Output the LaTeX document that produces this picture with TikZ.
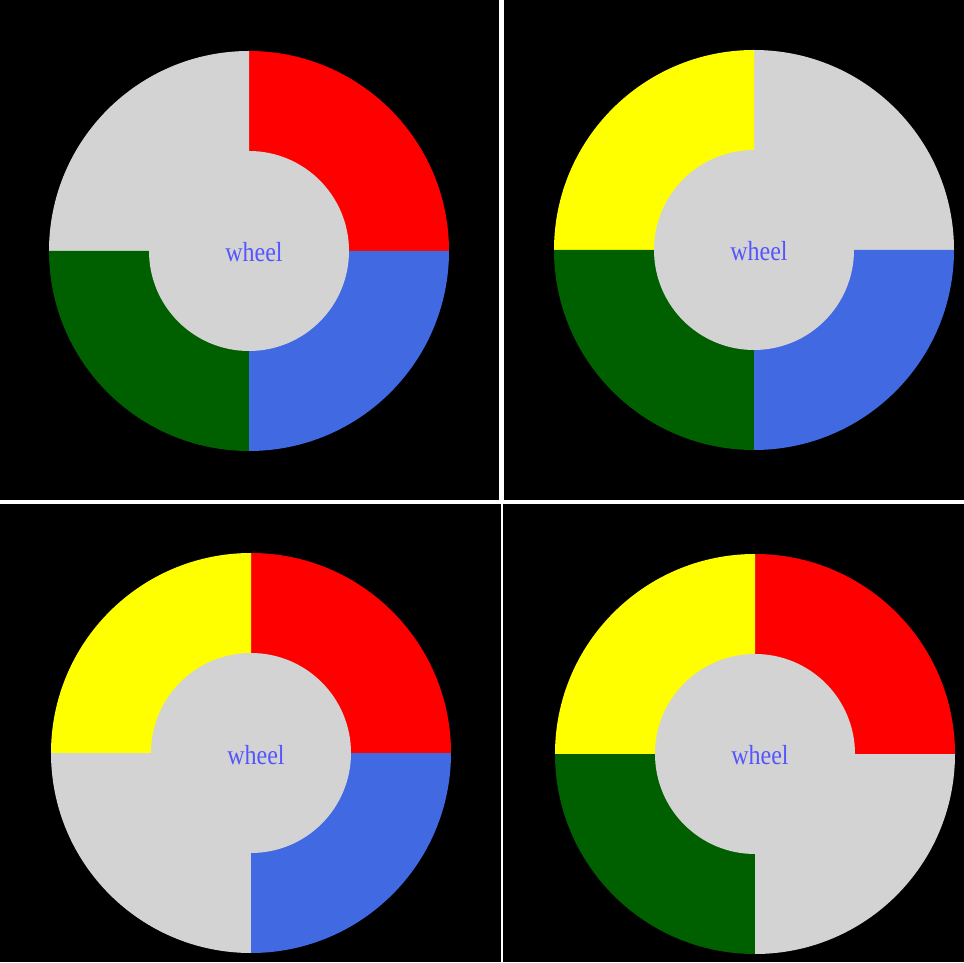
\documentclass[tikz,border=0pt]{standalone}
\usepackage{fontspec}
\setmainfont{Liberation Serif}
\usepackage{xcolor}
\definecolor{wheelgray}{RGB}{211,211,211}
\definecolor{wheelred}{RGB}{255,0,0}
\definecolor{wheelyellow}{RGB}{255,255,0}
\definecolor{wheelgreen}{RGB}{0,96,0}
\definecolor{wheelblue}{RGB}{65,105,225}
\definecolor{wheeltext}{RGB}{85,85,255}
\tikzset{
  panel/.style={fill=black},
  hub/.style={fill=wheelgray},
  wheellabel/.style={anchor=base, text=wheeltext, inner sep=0pt, font=\fontsize{24}{24}\selectfont}
}
\begin{document}
\begin{tikzpicture}[x=1pt, y=1pt]
\useasboundingbox (0,0) rectangle (964,962);
% background and panels
\fill[white] (0,0) rectangle (964,962);
\fill[panel] (0,462) rectangle (499,962);
\fill[panel] (504,462) rectangle (964,962);
\fill[panel] (0,0) rectangle (501,458);
\fill[panel] (503,0) rectangle (964,458);
% wheels: quadrants counter-clockwise from the upper right
\foreach \cx/\cy/\qa/\qb/\qc/\qd/\nm in {
  249/711/wheelred/wheelgray/wheelgreen/wheelblue/tl,
  754/712/wheelgray/wheelyellow/wheelgreen/wheelblue/tr,
  251/209/wheelred/wheelyellow/wheelgray/wheelblue/bl,
  755/208/wheelred/wheelyellow/wheelgreen/wheelgray/br}{
  \coordinate (\nm) at (\cx,\cy);
  \fill[\qa] (\nm) -- ++(0:200) arc[start angle=0, end angle=90, radius=200] -- cycle;
  \fill[\qb] (\nm) -- ++(90:200) arc[start angle=90, end angle=180, radius=200] -- cycle;
  \fill[\qc] (\nm) -- ++(180:200) arc[start angle=180, end angle=270, radius=200] -- cycle;
  \fill[\qd] (\nm) -- ++(270:200) arc[start angle=270, end angle=360, radius=200] -- cycle;
  \fill[hub] (\nm) circle[radius=100];
  \node[wheellabel] (\nm-label) at ([shift={(5,-11)}]\nm) {\scalebox{1}[1.15]{wheel}};
}
\end{tikzpicture}
\end{document}
